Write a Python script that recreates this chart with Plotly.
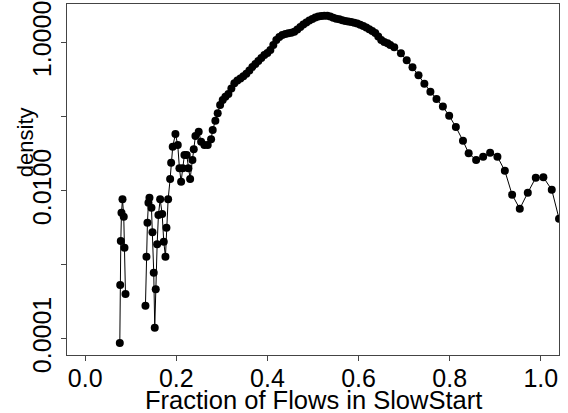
import plotly.graph_objects as go

# Fraction of flows in slow start (x) and estimated density (y); None = gap (zero density)
frac = [
    0.0759, 0.0768, 0.0781, 0.0796, 0.0818, 0.0846, 0.0862, 0.0884,
    None,
    0.1322, 0.1344, 0.1366, 0.1388, 0.1410, 0.1454, 0.1476, 0.1504, 0.1526, 0.1548,
    0.1579, 0.1607, 0.1645, 0.1689, 0.1724, 0.1761, 0.1783, 0.1820, 0.1864, 0.1886,
    0.1921, 0.1980, 0.2031, 0.2068, 0.2105, 0.2140, 0.2178, 0.2228, 0.2265, 0.2303,
    0.2353, 0.2382, 0.2419, 0.2491, 0.2544, 0.2616, 0.2689, 0.2763, 0.2798, 0.2857,
    0.2908, 0.2961, 0.3018,
    0.3077, 0.3143, 0.3208, 0.3274, 0.3340, 0.3406, 0.3471, 0.3537, 0.3603, 0.3669,
    0.3735, 0.3800, 0.3866, 0.3932, 0.3998, 0.4064, 0.4129, 0.4195, 0.4261, 0.4327,
    0.4393, 0.4458, 0.4524, 0.4590, 0.4656, 0.4722, 0.4787, 0.4853, 0.4919, 0.4985,
    0.5051, 0.5116, 0.5182, 0.5248, 0.5314, 0.5379, 0.5445, 0.5511, 0.5577, 0.5643,
    0.5708, 0.5774, 0.5840, 0.5906, 0.5971, 0.6037, 0.6103, 0.6169, 0.6235, 0.6300,
    0.6366, 0.6432, 0.6498, 0.6564, 0.6636, 0.6695, 0.6783,
    0.6930, 0.7057, 0.7184, 0.7316, 0.7445, 0.7577, 0.7711, 0.7851, 0.7989, 0.8136,
    0.8292, 0.8417, 0.8581, 0.8735, 0.8888, 0.9048, 0.9211, 0.9371, 0.9539, 0.9715,
    0.9890, 1.0057, 1.0241, 1.0401,
]
density = [
    8.75e-5, 5.32e-4, 2.09e-3, 5.04e-3, 7.65e-3, 4.45e-3, 1.70e-3, 4.02e-4,
    None,
    2.79e-4, 1.28e-3, 3.70e-3, 6.89e-3, 8.04e-3, 5.89e-3, 2.74e-3, 7.80e-4, 1.41e-4, 4.65e-4,
    1.89e-3, 4.70e-3, 7.65e-3, 4.84e-3, 2.05e-3, 1.28e-3, 3.16e-3, 7.65e-3, 1.44e-2, 2.39e-2,
    3.93e-2, 5.84e-2, 4.15e-2, 2.01e-2, 1.32e-2, 2.01e-2, 3.04e-2, 3.04e-2, 2.01e-2, 1.44e-2,
    2.60e-2, 3.62e-2, 5.48e-2, 6.27e-2, 4.59e-2, 4.15e-2, 4.15e-2, 4.95e-2, 6.61e-2, 8.83e-2,
    0.111, 0.144, 0.168,
    0.186, 0.203, 0.240, 0.283, 0.308, 0.328, 0.352, 0.380, 0.421, 0.469,
    0.515, 0.566, 0.621, 0.682, 0.726, 0.797, 0.931, 1.088, 1.194, 1.27,
    1.31, 1.34, 1.36, 1.41, 1.51, 1.63, 1.76, 1.87, 2.00, 2.09,
    2.19, 2.26, 2.30, 2.32, 2.31, 2.26, 2.17, 2.10, 2.07, 2.01,
    1.96, 1.93, 1.90, 1.86, 1.82, 1.75, 1.68, 1.60, 1.52, 1.44,
    1.35, 1.21, 1.088, 1.02, 0.981, 0.931, 0.867,
    0.719, 0.578, 0.465, 0.362, 0.279, 0.218, 0.173, 0.137, 0.103, 0.0726,
    0.0474, 0.0320, 0.0260, 0.0288, 0.0326, 0.0288, 0.0186, 0.00883, 0.00571, 0.00940,
    0.0150, 0.0152, 0.0103, 0.00418,
]

x_ticks = [0.0, 0.2, 0.4, 0.6, 0.8, 1.0]
x_ticklabels = ["0.0", "0.2", "0.4", "0.6", "0.8", "1.0"]
y_ticks = [1e-4, 1e-3, 1e-2, 1e-1, 1.0]
y_ticklabels = ["0.0001", "", "0.0100", "", "1.0000"]

FONT = "Liberation Sans, Arial, sans-serif"

fig = go.Figure()
fig.add_trace(go.Scatter(
    x=frac, y=density, mode="lines+markers",
    line=dict(color="black", width=1),
    marker=dict(color="black", size=8),
    connectgaps=False, showlegend=False,
))

fig.update_layout(
    width=568, height=413,
    margin=dict(l=67, r=9, t=4, b=58),
    paper_bgcolor="white", plot_bgcolor="white",
    font=dict(family=FONT, size=25, color="black"),
    xaxis=dict(
        range=[-0.04, 1.04], tickvals=x_ticks, ticktext=x_ticklabels,
        showgrid=False, zeroline=False, showline=True, mirror=True,
        linecolor="#444", linewidth=1, ticks="outside", ticklen=5,
        tickcolor="#444", tickfont=dict(size=25), automargin=False,
        ticklabelstandoff=-4,
    ),
    yaxis=dict(
        type="log", range=[-4.22, 0.523], tickvals=y_ticks, ticktext=y_ticklabels,
        showgrid=False, zeroline=False, showline=True, mirror=True,
        linecolor="#444", linewidth=1, ticks="outside", ticklen=5,
        tickcolor="#444", tickangle=-90, tickfont=dict(size=25), automargin=False,
    ),
    annotations=[
        dict(text="Fraction of Flows in SlowStart", xref="paper", yref="paper",
             x=0.5, y=-0.128, xanchor="center", yanchor="middle",
             showarrow=False, font=dict(size=25.5)),
        dict(text="density", xref="paper", yref="paper",
             x=-0.085, y=(355 - 142) / 351, xanchor="center", yanchor="middle",
             textangle=-90, showarrow=False, font=dict(size=22)),
    ],
)

fig.write_html("out.html")
